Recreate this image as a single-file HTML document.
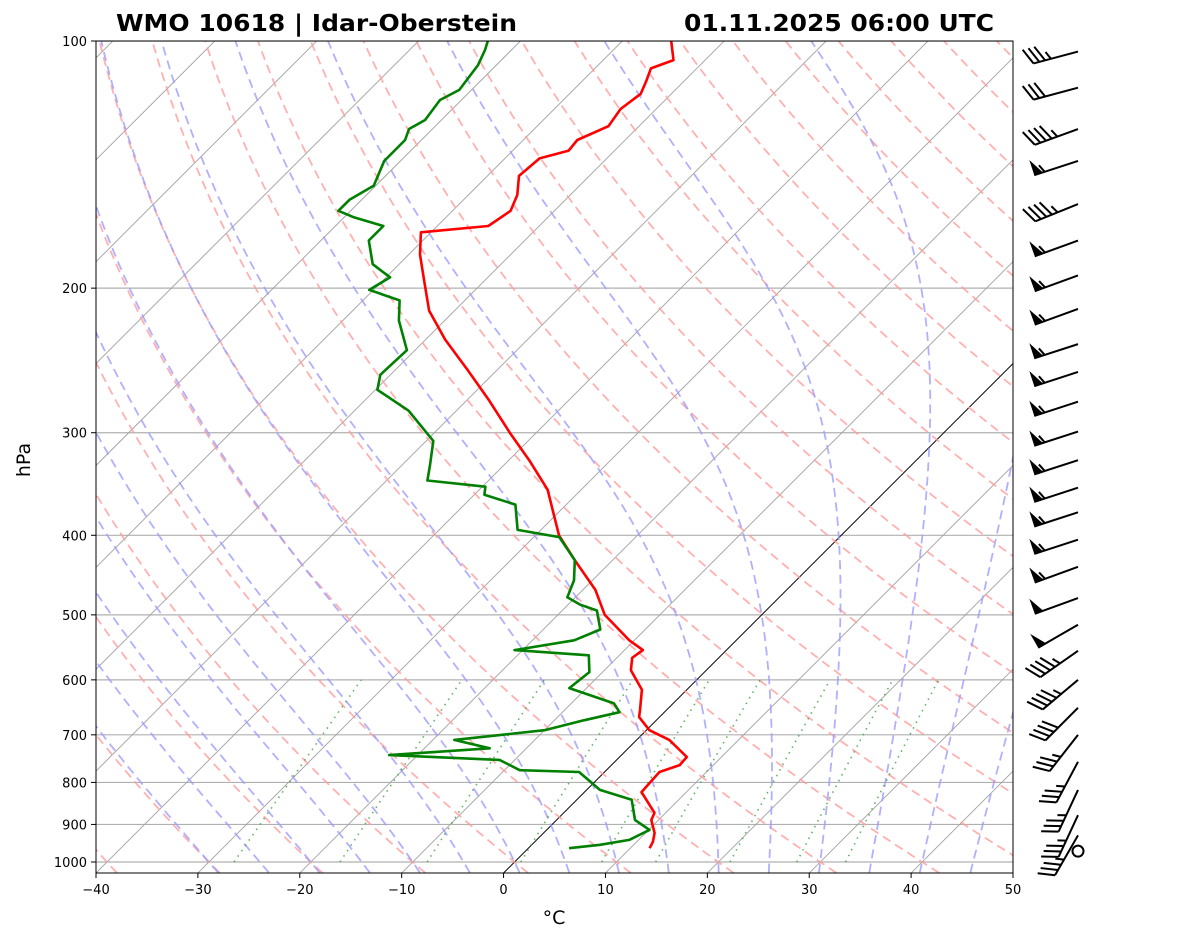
<!DOCTYPE html>
<html><head><meta charset="utf-8"><style>
body{margin:0;background:#fff;}
svg{display:block;font-family:"DejaVu Sans","Liberation Sans",sans-serif;}
</style></head><body>
<svg id="chart" width="1181" height="941" viewBox="0 0 1181 941" xmlns="http://www.w3.org/2000/svg">
<defs><clipPath id="clip"><rect x="96" y="41" width="917" height="832"/></clipPath></defs>
<rect width="1181" height="941" fill="#fff"/>
<g id="bg" clip-path="url(#clip)"></g>
<g id="prof" clip-path="url(#clip)"></g>
<rect x="96" y="41" width="917" height="832" fill="none" stroke="#000" stroke-width="1"/>
<g id="axes"></g>
<g id="barbs"></g>
<text x="116" y="31" font-size="23" font-weight="bold" textLength="401" lengthAdjust="spacingAndGlyphs">WMO 10618 | Idar-Oberstein</text>
<text x="684" y="31" font-size="23" font-weight="bold" textLength="310" lengthAdjust="spacingAndGlyphs">01.11.2025 06:00 UTC</text>
<text x="30" y="460" font-size="19" text-anchor="middle" transform="rotate(-90 30 460)">hPa</text>
<text x="554" y="924" font-size="19" text-anchor="middle">°C</text>
<script>
const tempP=[100,105.5,108,112,116,121,127,132,136,139,146,154,161,168,171,182,196,213,231,252,274,300,324,352,400,429,466,500,537,552,564,584,617,653,666,691,710,745,762,777,801,822,871,889,922,945,962];
const tempT=[-65.2,-63.1,-64.5,-63.7,-63.0,-63.5,-63.0,-64.7,-64.5,-66.6,-66.9,-65.2,-64.3,-65.0,-71.0,-68.9,-65.9,-62.5,-58.1,-52.8,-47.8,-42.6,-38.0,-33.3,-27.7,-23.7,-18.8,-15.4,-10.5,-8.2,-8.5,-7.4,-4.4,-2.6,-2.0,0.3,3.2,6.6,6.7,5.4,5.5,5.6,8.9,9.3,10.9,11.6,11.9];
const dewP=[100,102.5,107,114.7,118,124.8,128,132,140,150,156,161,164,168,175,187,194,201,207,219,238,255,266,282,307,328,343,349,357,367,394,402,429,454,476,486,494,521,537,552,560,587,614,641,657,672,691,710,727,741,751,773,777,817,840,889,914,940,953,962];
const dewT=[-83.2,-82.6,-81.8,-81.2,-82.1,-81.6,-82.3,-81.6,-81.6,-80.2,-81.2,-81.2,-79.0,-75.3,-75.3,-72.6,-69.6,-70.4,-66.4,-64.5,-60.8,-61.0,-59.8,-54.7,-49.3,-47.3,-46.0,-39.7,-39.0,-35.0,-32.3,-27.5,-23.7,-21.8,-20.8,-18.8,-16.6,-14.4,-15.9,-20.8,-13.0,-11.3,-11.7,-5.8,-4.4,-7.1,-10.0,-17.9,-13.6,-22.8,-11.5,-8.5,-2.5,1.3,5.4,7.7,10.1,9.1,6.7,4.0];
const windP=[103,114,128,140,158,175,193,212,234,253,275,299,324,350,375,405,437,477,514,553,600,649,700,755,817,877,928,970];
const windSpd=[35,30,45,55,45,55,55,55,55,55,55,55,55,55,55,55,55,50,50,45,45,40,35,35,35,35,35,0];
const windDir=[255,255,250,252,248,250,250,250,252,252,252,252,252,252,252,252,250,250,240,235,230,225,218,208,205,205,210,0];
const xTicks=[-40,-30,-20,-10,0,10,20,30,40,50];
const yTicks=[100,200,300,400,500,600,700,800,900,1000];
const dryT0=[-50,-40,-30,-20,-10,0,10,20,30,40,50,60,70,80,90,100,110,120,130,140,150,160,170,180,190,200];
const moistT0=[-30,-25,-20,-15,-10,-5,0,5,10,15,20,25,30,35,40,45,50];
const mixW=[0.0004,0.001,0.002,0.004,0.007,0.01,0.016,0.024,0.032];

const NS='http://www.w3.org/2000/svg';
const PX=10.189, PBOT=1031;
function Y(p){return 41+821*Math.log10(p/100);}
function X(T,p){return 96+(T+40)*PX+(873-Y(p));}
function mk(tag,attrs,parent){const e=document.createElementNS(NS,tag);for(const k in attrs)e.setAttribute(k,attrs[k]);parent.appendChild(e);return e;}
const bg=document.getElementById('bg'),prof=document.getElementById('prof'),axes=document.getElementById('axes'),barbs=document.getElementById('barbs');
function polyline(pts,style,parent,name){const d=pts.map((q,i)=>(i?'L':'M')+q[0].toFixed(1)+','+q[1].toFixed(1)).join('');const e=mk('path',Object.assign({d:d,fill:'none'},style),parent);


return e;}
const presSteps=[];for(let p=PBOT;p>=95;p-=5)presSteps.push(p);
yTicks.forEach(p=>{const l=mk('line',{x1:96,x2:1013,y1:Y(p),y2:Y(p),stroke:'#b0b0b0','stroke-width':1.2},bg);

});
for(let T=-160;T<=50;T+=10){const l=mk('line',{x1:X(T,PBOT),y1:Y(PBOT),x2:X(T,95),y2:Y(95),stroke:T===0?'#000':'#a0a0a0','stroke-width':T===0?1:0.9},bg);

}
dryT0.forEach(t0=>{const th=t0+273.15;polyline(presSteps.map(p=>[X(th*Math.pow(p/1000,0.2857)-273.15,p),Y(p)]),{stroke:'#ff9c9c','stroke-width':1.8,'stroke-dasharray':'9,5.5','stroke-opacity':0.8},bg,'dry-adiabat');});
function es(T){return 6.112*Math.exp(17.67*T/(T+243.5));}
function dTdp(Tc,p){const T=Tc+273.15,rs=0.622*es(Tc)/(p-es(Tc)),Rd=287,Lv=2.5e6,Cp=1005;return (Rd*T+Lv*rs)/(p*(Cp+Lv*Lv*rs*0.622/(Rd*T*T)));}
moistT0.forEach(t0=>{let pts=[];let T=t0;for(let p=1000;p<=PBOT;p+=2){pts.unshift([X(T,p),Y(p)]);T+=dTdp(T,p)*2;}
T=t0;for(let p=1000;p>=95;p-=2){pts.push([X(T,p),Y(p)]);T-=dTdp(T,p)*2;}
polyline(pts,{stroke:'#9c9cff','stroke-width':1.8,'stroke-dasharray':'9,5.5','stroke-opacity':0.8},bg,'moist-adiabat');});
mixW.forEach(w=>{const pts=[];for(let p=1000;p>=600;p-=10){const e=p*w/(0.622+w),l=Math.log(e/6.112);pts.push([X(243.5*l/(17.67-l),p),Y(p)]);}
polyline(pts,{stroke:'#3aa03a','stroke-width':1.6,'stroke-dasharray':'1.5,5','stroke-opacity':0.8},bg,'mixing-ratio-line');});
polyline(tempP.map((p,i)=>[X(tempT[i],p),Y(p)]),{stroke:'#ff0000','stroke-width':2.6,'stroke-linejoin':'round'},prof,'temperature-line');
polyline(dewP.map((p,i)=>[X(dewT[i],p),Y(p)]),{stroke:'#008000','stroke-width':2.6,'stroke-linejoin':'round'},prof,'dewpoint-line');
xTicks.forEach(t=>{const x=96+(t+40)*PX;mk('line',{x1:x,x2:x,y1:873,y2:878,stroke:'#000'},axes);
const tx=mk('text',{x:x,y:894,'font-size':13,'text-anchor':'middle'},axes);tx.textContent=(t<0?'\u2212'+(-t):t);

});
yTicks.forEach(p=>{const y=Y(p);mk('line',{x1:91,x2:96,y1:y,y2:y,stroke:'#000'},axes);
const tx=mk('text',{x:87,y:y+5,'font-size':13,'text-anchor':'end'},axes);tx.textContent=p;

});
windP.forEach((p,i)=>{const bx=1078,by=Y(p),spd=windSpd[i];
if(spd<3){const c=mk('circle',{cx:bx,cy:by,r:5.5,fill:'none',stroke:'#000','stroke-width':2},barbs);

return;}
const a=windDir[i]*Math.PI/180,sx=Math.sin(a),sy=-Math.cos(a),L=46;
const px=-sy,py=sx;
const g=mk('g',{},barbs);


const tx=bx+sx*L,ty=by+sy*L;
mk('line',{x1:bx,y1:by,x2:tx,y2:ty,stroke:'#000','stroke-width':2},g);
let s=spd,pos=0;const sp=6,TL=16,LN=7;
while(s>=50){const x0=tx-sx*pos,y0=ty-sy*pos,x1=tx-sx*(pos+9),y1=ty-sy*(pos+9);
mk('polygon',{points:`${x0},${y0} ${x1},${y1} ${x0+px*TL},${y0+py*TL}`,fill:'#000'},g);pos+=11;s-=50;}
while(s>=10){const x0=tx-sx*pos,y0=ty-sy*pos;mk('line',{x1:x0,y1:y0,x2:x0+px*TL+sx*LN,y2:y0+py*TL+sy*LN,stroke:'#000','stroke-width':2},g);pos+=sp;s-=10;}
if(s>=5){if(pos===0)pos=sp;const x0=tx-sx*pos,y0=ty-sy*pos;mk('line',{x1:x0,y1:y0,x2:x0+px*TL/2+sx*LN/2,y2:y0+py*TL/2+sy*LN/2,stroke:'#000','stroke-width':2},g);}
});
</script>
</svg>
</body></html>
